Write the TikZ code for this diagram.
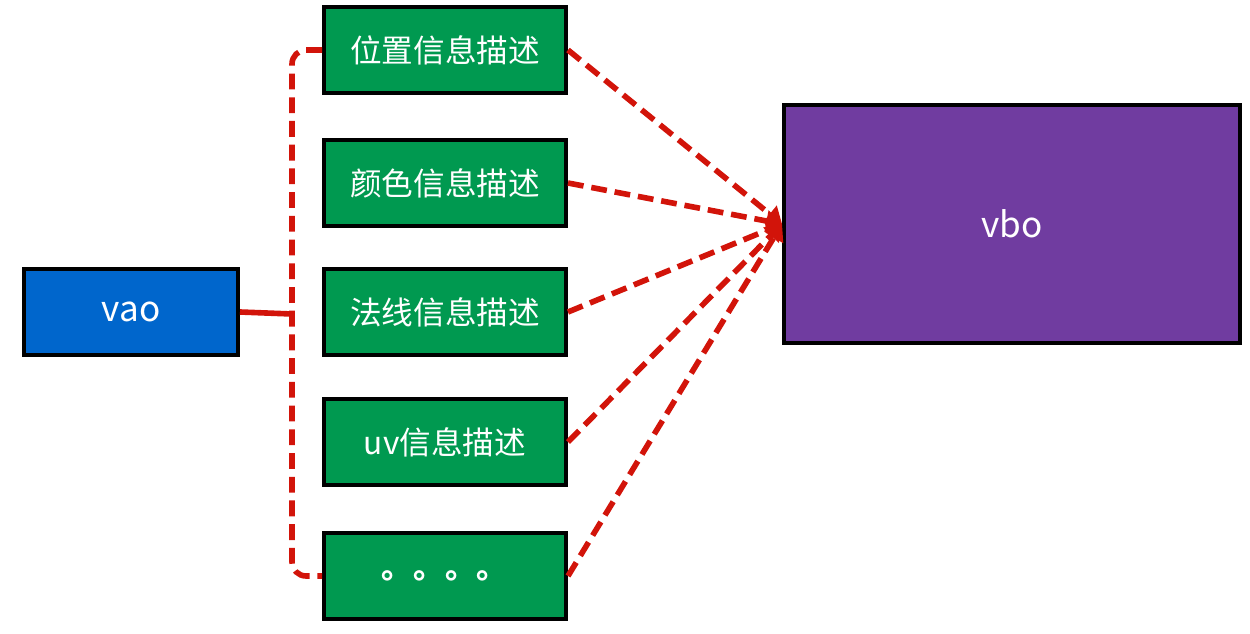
\documentclass[tikz,border=0pt]{standalone}
\usepackage{fontspec}
\setmainfont{Noto Sans CJK SC}
\usepackage{xcolor}
\usepackage{tikz}
\usetikzlibrary{positioning,calc,arrows.meta}
\definecolor{vaoblue}{RGB}{0,102,204}
\definecolor{descgreen}{RGB}{0,153,80}
\definecolor{vbopurple}{RGB}{112,60,160}
\definecolor{linkred}{RGB}{210,20,10}

\begin{document}
\begin{tikzpicture}[
					x=0.02cm, y=-0.02cm,
					box/.style={
						draw=black, line width=2.3pt, text=white,
						minimum width=4.84cm, minimum height=1.72cm,
						font=\fontsize{18}{21}\selectfont, anchor=center
					},
					descbox/.style={box, fill=descgreen},
					dashlink/.style={
						draw=linkred, line width=3.2pt,
						dash pattern=on 9pt off 4.5pt
					},
					arrowlink/.style={dashlink, -{Triangle[length=9pt,width=12pt]}}
					]
					\useasboundingbox (0,0) rectangle (1250,634);
					% vao links, vbo rechts, dazwischen die Beschreibungen
					\node[box, fill=vaoblue, minimum width=4.28cm, font=\fontsize{20}{23}\selectfont] (vao) at (131,312) {vao};
					\node[descbox] (p1) at (445,50)  {位置信息描述};
					\node[descbox] (p2) at (445,183) {颜色信息描述};
					\node[descbox] (p3) at (445,312) {法线信息描述};
					\node[descbox] (p4) at (445,442) {uv信息描述};
					\node[descbox, font=\fontsize{18}{21}\bfseries] (p5) at (445,576) {\raisebox{-4pt}{。。。。}};
					\node[box, fill=vbopurple, minimum width=9.12cm, minimum height=4.76cm, font=\fontsize{20}{23}\selectfont] (vbo) at (1012,224) {vbo};
					% Klammer
					\coordinate (join) at (292,314);
					\draw[dashlink, rounded corners=8pt] (p1.west) -- ++(-30,0) |- (p5.west);
					\draw[linkred, line width=3.2pt] (vao.east) -- (join);
					% Pfeile zu vbo
					\foreach \p in {p1,p2,p3,p4,p5}
						\draw[arrowlink] (\p.east) -- (vbo.west);
				\end{tikzpicture}
\end{document}
